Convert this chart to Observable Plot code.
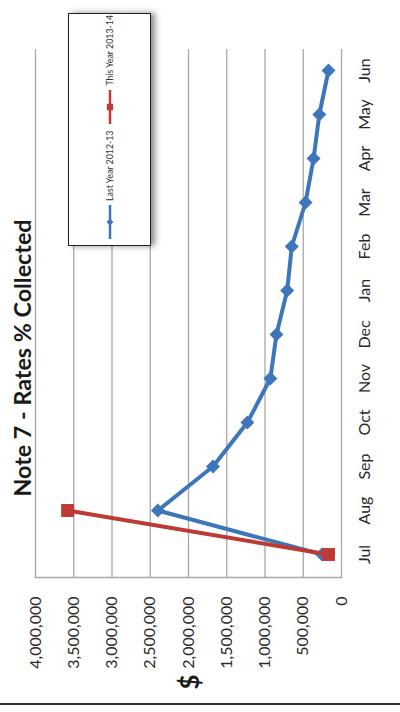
<!DOCTYPE html>
<html>
<head>
<meta charset="utf-8">
<script src="https://cdn.jsdelivr.net/npm/d3@7"></script>
<script src="https://cdn.jsdelivr.net/npm/@observablehq/plot@0.6"></script>
<style>
  html, body { margin: 0; padding: 0; background: #fff; }
  body { width: 400px; height: 712px; position: relative; overflow: hidden; font-family: Lato, "Open Sans", sans-serif; }
  #rot { position: absolute; left: 0; top: 712px; width: 712px; height: 400px; transform-origin: 0 0; transform: rotate(-90deg); }
  #title { position: absolute; left: 0; width: 708px; top: 8px; text-align: center; font: bold 23.3px Lato, sans-serif; color: #1a1a1a; line-height: 28px; }
  #ylab { position: absolute; left: 18px; top: 173px; width: 24px; text-align: center; font: bold 26px Lato, sans-serif; color: #1a1a1a; line-height: 32px; }
  #chart { position: absolute; left: 0; top: 0; }
  #legend { position: absolute; left: 466px; top: 68px; width: 231px; height: 81px; border: 1.5px solid #222; background: #fff; box-shadow: 0 4px 6px rgba(0,0,0,0.45); display: flex; align-items: center; font: 8.8px Lato, sans-serif; color: #333; }
  #legend .item { display: flex; align-items: center; }
  #legend svg { display: block; }
  #bottomline { position: absolute; left: 7px; top: 0; width: 1.6px; height: 400px; background: #333; }
</style>
</head>
<body>
<div id="rot">
  <div id="chart"></div>
  <div id="title"></div>
  <div id="ylab"></div>
  <div id="legend"></div>
  <div id="bottomline"></div>
</div>
<script>
const titleText = "Note 7 - Rates % Collected";
const yLabel = "$";
const months = ["Jul","Aug","Sep","Oct","Nov","Dec","Jan","Feb","Mar","Apr","May","Jun"];
const lastYearName = "Last Year 2012-13";
const thisYearName = "This Year 2013-14";
const lastYearValues = [255000, 2400000, 1680000, 1230000, 930000, 850000, 710000, 650000, 470000, 365000, 290000, 170000];
const thisYearMonths = ["Jul","Aug"];
const thisYearValues = [170000, 3580000];
const yTicks = [0, 500000, 1000000, 1500000, 2000000, 2500000, 3000000, 3500000, 4000000];

const blue = "#3d76bb";
const red = "#be3a34";

const lastYear = months.map((m, i) => ({month: m, value: lastYearValues[i]}));
const thisYear = thisYearMonths.map((m, i) => ({month: m, value: thisYearValues[i]}));

document.getElementById("title").textContent = titleText;
document.getElementById("ylab").textContent = yLabel;

const chart = Plot.plot({
  width: 712,
  height: 400,
  marginLeft: 134,
  marginRight: 49,
  marginTop: 35,
  marginBottom: 59,
  style: {fontFamily: "Lato, sans-serif", fontSize: "16px", color: "#2a2a2a", background: "transparent"},
  x: {type: "point", domain: months, padding: 0.5, label: null},
  y: {domain: [0, 4000000], label: null},
  marks: [
    Plot.gridY(yTicks, {stroke: "#a8a8a8", strokeOpacity: 1, strokeWidth: 1.3}),
    Plot.frame({anchor: "left", stroke: "#a8a8a8", strokeWidth: 1.3}),
    Plot.axisY(yTicks, {tickSize: 0, tickPadding: 19, tickFormat: d3.format(","), label: null}),
    Plot.axisX({tickSize: 0, tickPadding: 17, label: null}),
    Plot.line(lastYear, {x: "month", y: "value", stroke: blue, strokeWidth: 4}),
    Plot.dot(lastYear, {x: "month", y: "value", symbol: "diamond2", r: 6.3, fill: blue, stroke: "none"}),
    Plot.line(thisYear, {x: "month", y: "value", stroke: red, strokeWidth: 4}),
    Plot.dot(thisYear, {x: "month", y: "value", symbol: "square", r: 7.3, fill: red, stroke: "none"})
  ]
});
document.getElementById("chart").appendChild(chart);

// Legend
const legend = document.getElementById("legend");
function addItem(name, color, symbolType, padLeft) {
  const item = document.createElement("div");
  item.className = "item";
  item.style.marginLeft = padLeft + "px";
  const svg = d3.create("svg").attr("width", 36).attr("height", 14);
  svg.append("line").attr("x1", 1).attr("x2", 35).attr("y1", 7).attr("y2", 7).attr("stroke", color).attr("stroke-width", 2.5);
  svg.append("path").attr("transform", "translate(18,7)")
    .attr("d", d3.symbol(symbolType, symbolType === d3.symbolSquare ? 40 : 30)()).attr("fill", color);
  item.appendChild(svg.node());
  const t = document.createElement("span");
  t.textContent = name;
  t.style.marginLeft = "3px";
  item.appendChild(t);
  legend.appendChild(item);
}
addItem(lastYearName, blue, d3.symbolDiamond2, 5);
addItem(thisYearName, red, d3.symbolSquare, 6);
</script>
</body>
</html>
